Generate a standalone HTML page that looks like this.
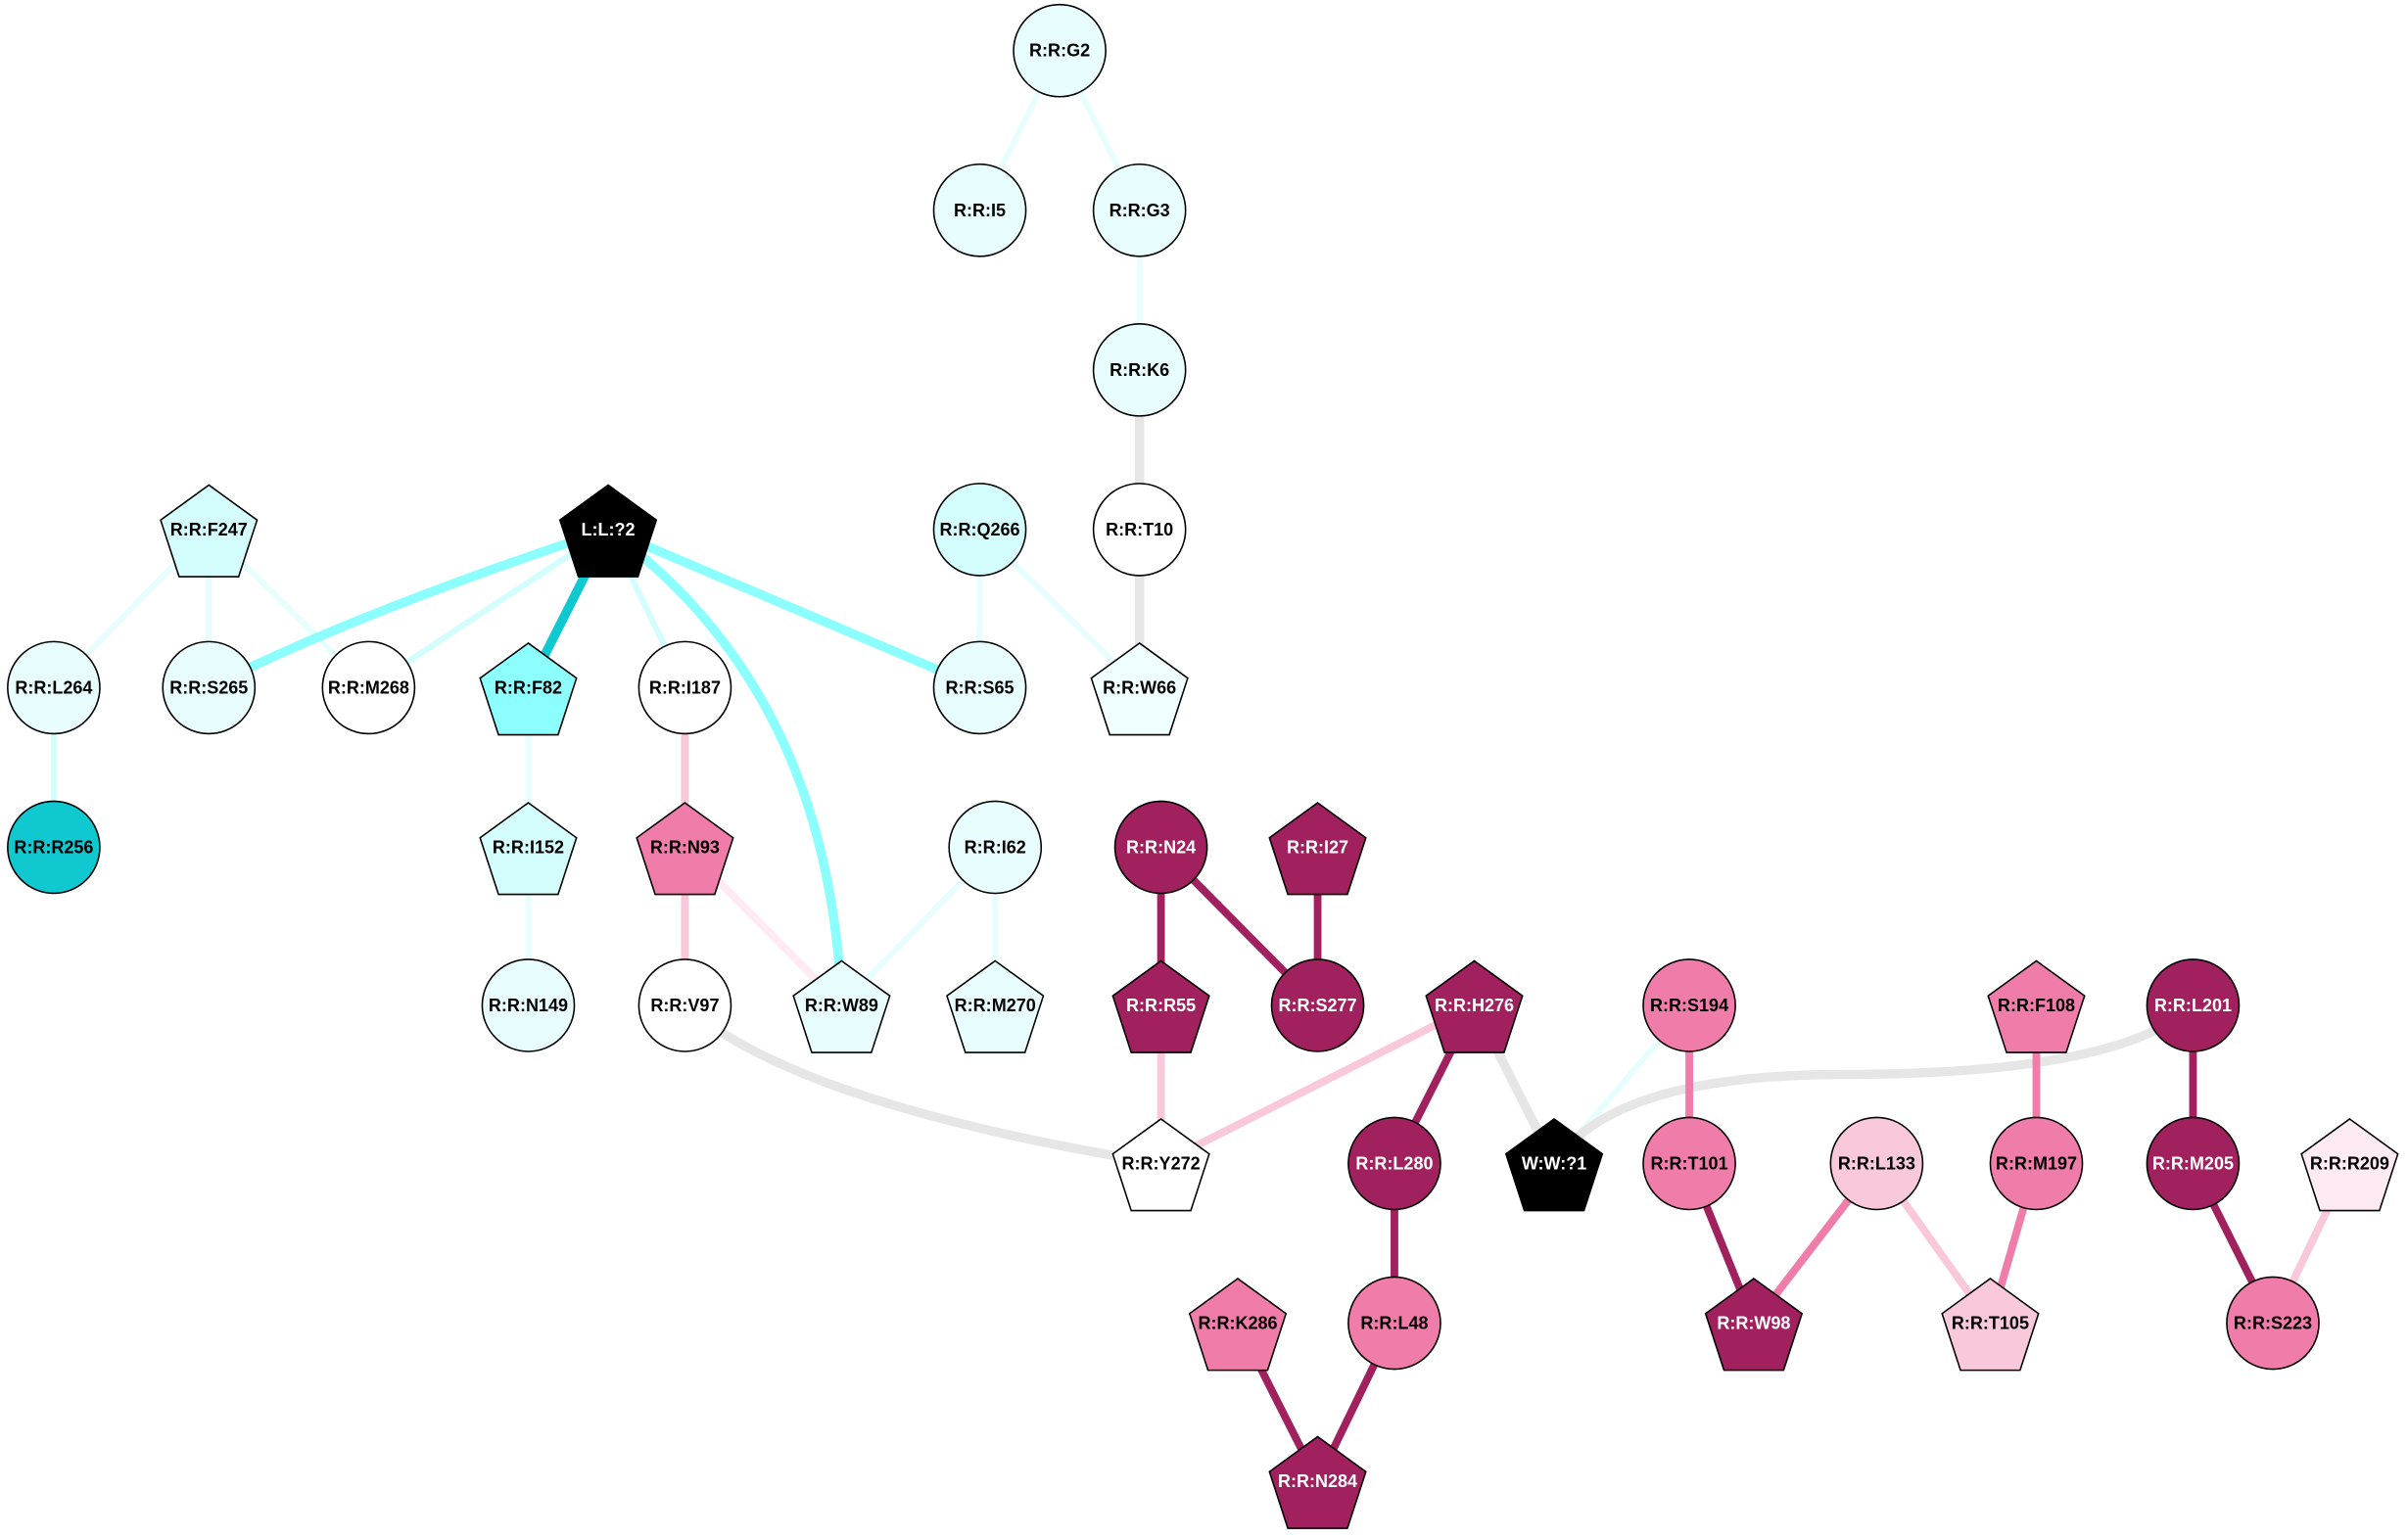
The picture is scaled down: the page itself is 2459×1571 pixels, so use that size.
<!DOCTYPE html>
<html><head><meta charset="utf-8"><style>
html,body{margin:0;padding:0;background:#fff}
svg{display:block}
text{font-family:"Liberation Sans",Arial,sans-serif;font-weight:bold;font-size:11.5px;text-anchor:middle;dominant-baseline:central}
</style></head><body>
<svg width="2459" height="1571" viewBox="0 0 1568 1002" preserveAspectRatio="none" xmlns="http://www.w3.org/2000/svg">
<defs>
<polygon id="p" points="0,-33 31.4,-10.2 19.4,26.7 -19.4,26.7 -31.4,-10.2" stroke="#000" stroke-width="1"/>
</defs>
<g fill="none" stroke-linecap="butt">
<g stroke="#e8fefe" stroke-width="4">
<line x1="690" y1="33" x2="638" y2="137"/><line x1="690" y1="33" x2="742" y2="137"/><line x1="742" y1="137" x2="742" y2="241"/>
<line x1="638" y1="345" x2="638" y2="448"/><line x1="638" y1="345" x2="742" y2="448"/>
<line x1="136" y1="345" x2="35" y2="448"/><line x1="136" y1="345" x2="136" y2="448"/><line x1="136" y1="345" x2="240" y2="448"/>
<line x1="344" y1="448" x2="344" y2="552"/><line x1="344" y1="552" x2="344" y2="655"/>
<line x1="648" y1="552" x2="548" y2="655"/><line x1="648" y1="552" x2="648" y2="655"/>
<line x1="1100" y1="655" x2="1012" y2="758"/>
</g>
<g stroke="#d4fdfd" stroke-width="4">
<line x1="35" y1="448" x2="35" y2="552"/>
<line x1="396" y1="345" x2="240" y2="448"/><line x1="396" y1="345" x2="446" y2="448"/>
</g>
<g stroke="#e6e6e6" stroke-width="6">
<line x1="742" y1="241" x2="742" y2="345"/><line x1="742" y1="345" x2="742" y2="448"/>
<path d="M446,655 Q520,720 756,758"/>
<line x1="960" y1="655" x2="1012" y2="758"/>
<path d="M1012,758 Q1050,700 1200,700 Q1380,700 1428,655"/>
</g>
<g stroke="#8cfefe" stroke-width="6">
<path d="M396,345 Q230,400 136,448"/>
<path d="M396,345 Q540,450 548,655"/>
<line x1="396" y1="345" x2="638" y2="448"/>
</g>
<line x1="396" y1="345" x2="344" y2="448" stroke="#10c8d0" stroke-width="6"/>
<g stroke="#f9c8da" stroke-width="5">
<line x1="446" y1="448" x2="446" y2="552"/><line x1="446" y1="552" x2="446" y2="655"/>
<line x1="756" y1="655" x2="756" y2="758"/><line x1="960" y1="655" x2="756" y2="758"/>
<line x1="1222" y1="758" x2="1296" y2="862"/><line x1="1530" y1="758" x2="1480" y2="862"/>
</g>
<line x1="446" y1="552" x2="548" y2="655" stroke="#fdeaf2" stroke-width="5"/>
<g stroke="#f07caa" stroke-width="5">
<line x1="1100" y1="655" x2="1100" y2="758"/><line x1="1222" y1="758" x2="1142" y2="862"/>
<line x1="1326" y1="655" x2="1326" y2="758"/><line x1="1326" y1="758" x2="1296" y2="862"/>
</g>
<g stroke="#a0215e" stroke-width="5">
<line x1="756" y1="552" x2="756" y2="655"/><line x1="756" y1="552" x2="858" y2="655"/><line x1="858" y1="552" x2="858" y2="655"/>
<line x1="960" y1="655" x2="908" y2="758"/><line x1="908" y1="758" x2="908" y2="862"/>
<line x1="908" y1="862" x2="858" y2="965"/><line x1="806" y1="862" x2="858" y2="965"/>
<line x1="1100" y1="758" x2="1142" y2="862"/>
<line x1="1428" y1="655" x2="1428" y2="758"/><line x1="1428" y1="758" x2="1480" y2="862"/>
</g>
</g>
<g stroke="#000" stroke-width="1">
<circle cx="690" cy="33" r="30" fill="#e8fefe"/>
<circle cx="638" cy="137" r="30" fill="#e8fefe"/>
<circle cx="742" cy="137" r="30" fill="#e8fefe"/>
<circle cx="742" cy="241" r="30" fill="#e8fefe"/>
<circle cx="742" cy="345" r="30" fill="#fff"/>
<circle cx="638" cy="345" r="30" fill="#d4fdfd"/>
<circle cx="638" cy="448" r="30" fill="#e8fefe"/>
<circle cx="35" cy="448" r="30" fill="#e8fefe"/>
<circle cx="136" cy="448" r="30" fill="#e8fefe"/>
<circle cx="240" cy="448" r="30" fill="#fff"/>
<circle cx="446" cy="448" r="30" fill="#fff"/>
<circle cx="35" cy="552" r="30" fill="#10c8d0"/>
<circle cx="344" cy="655" r="30" fill="#e8fefe"/>
<circle cx="446" cy="655" r="30" fill="#fff"/>
<circle cx="648" cy="552" r="30" fill="#e8fefe"/>
<circle cx="756" cy="552" r="30" fill="#a0215e"/>
<circle cx="858" cy="655" r="30" fill="#a0215e"/>
<circle cx="908" cy="758" r="30" fill="#a0215e"/>
<circle cx="908" cy="862" r="30" fill="#f07caa"/>
<circle cx="1100" cy="655" r="30" fill="#f07caa"/>
<circle cx="1100" cy="758" r="30" fill="#f07caa"/>
<circle cx="1222" cy="758" r="30" fill="#f9c8da"/>
<circle cx="1326" cy="758" r="30" fill="#f07caa"/>
<circle cx="1428" cy="655" r="30" fill="#a0215e"/>
<circle cx="1428" cy="758" r="30" fill="#a0215e"/>
<circle cx="1480" cy="862" r="30" fill="#f07caa"/>
</g>
<use href="#p" x="742" y="452" fill="#f0ffff"/>
<use href="#p" x="136" y="349" fill="#d4fdfd"/>
<use href="#p" x="396" y="349" fill="#000"/>
<use href="#p" x="344" y="452" fill="#8cfefe"/>
<use href="#p" x="344" y="556" fill="#d4fdfd"/>
<use href="#p" x="446" y="556" fill="#f07caa"/>
<use href="#p" x="548" y="659" fill="#e8fefe"/>
<use href="#p" x="648" y="659" fill="#e8fefe"/>
<use href="#p" x="858" y="556" fill="#a0215e"/>
<use href="#p" x="756" y="659" fill="#a0215e"/>
<use href="#p" x="960" y="659" fill="#a0215e"/>
<use href="#p" x="756" y="762" fill="#fff"/>
<use href="#p" x="806" y="866" fill="#f07caa"/>
<use href="#p" x="858" y="969" fill="#a0215e"/>
<use href="#p" x="1012" y="762" fill="#000"/>
<use href="#p" x="1142" y="866" fill="#a0215e"/>
<use href="#p" x="1296" y="866" fill="#f9c8da"/>
<use href="#p" x="1326" y="659" fill="#f07caa"/>
<use href="#p" x="1530" y="762" fill="#fdeaf2"/>
<g fill="#000">
<text x="690" y="33">R:R:G2</text><text x="638" y="137">R:R:I5</text><text x="742" y="137">R:R:G3</text>
<text x="742" y="241">R:R:K6</text><text x="742" y="345">R:R:T10</text><text x="742" y="448">R:R:W66</text>
<text x="638" y="345">R:R:Q266</text><text x="638" y="448">R:R:S65</text><text x="136" y="345">R:R:F247</text>
<text x="35" y="448">R:R:L264</text><text x="136" y="448">R:R:S265</text><text x="240" y="448">R:R:M268</text>
<text x="344" y="448">R:R:F82</text><text x="446" y="448">R:R:I187</text><text x="35" y="552">R:R:R256</text>
<text x="344" y="552">R:R:I152</text><text x="446" y="552">R:R:N93</text><text x="344" y="655">R:R:N149</text>
<text x="446" y="655">R:R:V97</text><text x="548" y="655">R:R:W89</text><text x="648" y="552">R:R:I62</text>
<text x="648" y="655">R:R:M270</text><text x="756" y="758">R:R:Y272</text><text x="806" y="862">R:R:K286</text>
<text x="908" y="862">R:R:L48</text><text x="1100" y="655">R:R:S194</text><text x="1100" y="758">R:R:T101</text>
<text x="1222" y="758">R:R:L133</text><text x="1296" y="862">R:R:T105</text><text x="1326" y="655">R:R:F108</text>
<text x="1326" y="758">R:R:M197</text><text x="1530" y="758">R:R:R209</text><text x="1480" y="862">R:R:S223</text>
</g>
<g fill="#fff">
<text x="396" y="345">L:L:?2</text><text x="1012" y="758">W:W:?1</text>
<text x="756" y="552">R:R:N24</text><text x="858" y="552">R:R:I27</text><text x="756" y="655">R:R:R55</text>
<text x="858" y="655">R:R:S277</text><text x="960" y="655">R:R:H276</text><text x="908" y="758">R:R:L280</text>
<text x="858" y="965">R:R:N284</text><text x="1142" y="862">R:R:W98</text><text x="1428" y="655">R:R:L201</text>
<text x="1428" y="758">R:R:M205</text>
</g>
</svg>
</body></html>
